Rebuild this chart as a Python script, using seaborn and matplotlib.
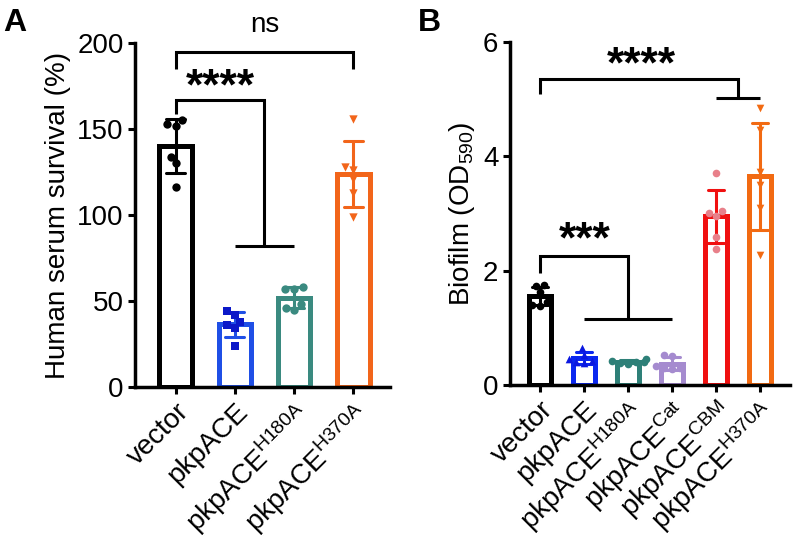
"""Recreates a two-panel bar chart (serum survival and biofilm) with swarm points."""

import numpy as np
import pandas as pd
import seaborn as sns
import matplotlib
matplotlib.use("Agg")
import matplotlib.pyplot as plt

sns.set_style("ticks")
plt.rcParams["font.family"] = ["Liberation Sans", "DejaVu Sans"]
for key in ["text.color", "axes.labelcolor", "xtick.color", "ytick.color", "axes.edgecolor"]:
    plt.rcParams[key] = "black"

# Panel A: human serum survival (%)
groups_a = ["vector", "pkpACE", "pkpACE_H180A", "pkpACE_H370A"]
labels_a = ["vector", "pkpACE", r"pkpACE$^{\mathregular{H180A}}$", r"pkpACE$^{\mathregular{H370A}}$"]
vector_a = [152, 153, 155, 134, 130, 116]
pkpace_a = [44, 42, 34, 24, 36, 38]
h180a_a = [57, 58, 57, 45, 46, 48]
h370a_a = [156, 128, 126, 113, 99, 121]

# Panel B: biofilm (OD590)
groups_b = ["vector", "pkpACE", "pkpACE_H180A", "pkpACE_Cat", "pkpACE_CBM", "pkpACE_H370A"]
labels_b = ["vector", "pkpACE", r"pkpACE$^{\mathregular{H180A}}$", r"pkpACE$^{\mathregular{Cat}}$",
            r"pkpACE$^{\mathregular{CBM}}$", r"pkpACE$^{\mathregular{H370A}}$"]
vector_b = [1.73, 1.74, 1.62, 1.45, 1.40, 1.38]
pkpace_b = [0.65, 0.52, 0.45, 0.42, 0.38, 0.40]
h180a_b = [0.45, 0.42, 0.40, 0.38, 0.40, 0.37]
cat_b = [0.52, 0.50, 0.32, 0.28, 0.30, 0.30]
cbm_b = [3.71, 3.04, 3.01, 2.95, 2.59, 2.38]
h370a_b = [4.84, 4.46, 3.72, 3.50, 3.09, 2.27]

bar_col_a = {"vector": "#000000", "pkpACE": "#1f4fe6", "pkpACE_H180A": "#3a8a80", "pkpACE_H370A": "#f2651a"}
pt_col_a = {"vector": "#000000", "pkpACE": "#0b18c8", "pkpACE_H180A": "#3a8a80", "pkpACE_H370A": "#f2651a"}
marker_a = {"vector": "o", "pkpACE": "s", "pkpACE_H180A": "o", "pkpACE_H370A": "v"}

bar_col_b = {"vector": "#000000", "pkpACE": "#0b28f0", "pkpACE_H180A": "#2e8078", "pkpACE_Cat": "#a58bcf",
             "pkpACE_CBM": "#f01010", "pkpACE_H370A": "#f26a12"}
pt_col_b = {"vector": "#000000", "pkpACE": "#0b18e0", "pkpACE_H180A": "#2e8078", "pkpACE_Cat": "#a58bcf",
            "pkpACE_CBM": "#e8808a", "pkpACE_H370A": "#f26a12"}
marker_b = {"vector": "o", "pkpACE": "^", "pkpACE_H180A": "o", "pkpACE_Cat": "o",
            "pkpACE_CBM": "o", "pkpACE_H370A": "v"}


def long_df(groups, series):
    rows = []
    for g, vals in zip(groups, series):
        for v in vals:
            rows.append({"group": g, "value": v})
    return pd.DataFrame(rows)


def bracket(ax, xs, ys, lw=2.2):
    ax.plot(xs, ys, color="black", lw=lw, clip_on=False, solid_capstyle="butt",
            solid_joinstyle="miter")


def stars(ax, x, y, s):
    ax.text(x, y, s, ha="center", va="baseline", fontsize=32, fontweight="bold", clip_on=False)


def draw_panel(ax, df, groups, labels, bar_col, pt_col, markers, width, capsize, msize):
    sns.barplot(data=df, x="group", y="value", hue="group", order=groups, hue_order=groups,
                palette=bar_col, fill=False, errorbar="sd", capsize=capsize, width=width,
                linewidth=3.6, err_kws={"linewidth": 2.2}, legend=False, ax=ax)
    for g in groups:
        sub = df[df["group"] == g]
        sns.swarmplot(data=sub, x="group", y="value", order=groups, color=pt_col[g],
                      marker=markers[g], size=msize, ax=ax, zorder=3)
    ax.set_xticks(range(len(groups)))
    ax.set_xticklabels(labels, rotation=45, ha="right", rotation_mode="anchor", fontsize=20)
    ax.set_xlabel("")
    ax.tick_params(axis="both", length=5, width=2.2, labelsize=20, colors="black")
    for s in ["left", "bottom"]:
        ax.spines[s].set_linewidth(2.5)
        ax.spines[s].set_color("black")
    sns.despine(ax=ax)


fig = plt.figure(figsize=(7.96, 5.45), dpi=100)

# Panel A
ax_a = fig.add_axes([0.170, 0.290, 0.320, 0.631])
df_a = long_df(groups_a, [vector_a, pkpace_a, h180a_a, h370a_a])
draw_panel(ax_a, df_a, groups_a, labels_a, bar_col_a, pt_col_a, marker_a, 0.55, 0.32, 6)
ax_a.set_ylim(0, 200)
ax_a.set_yticks([0, 50, 100, 150, 200])
ax_a.set_xlim(-0.68, 3.62)
ax_a.set_ylabel("Human serum survival (%)", fontsize=20)
bracket(ax_a, [0, 0, 3, 3], [185, 195, 195, 185])
ax_a.text(1.5, 203, "ns", ha="center", va="bottom", fontsize=20)
bracket(ax_a, [0, 0, 1.5, 1.5], [159, 167, 167, 82])
bracket(ax_a, [1, 2], [82, 82])
stars(ax_a, 0.75, 167, "****")
fig.text(0.004, 0.985, "A", fontsize=23, fontweight="bold", va="top")

# Panel B
ax_b = fig.add_axes([0.641, 0.294, 0.352, 0.629])
df_b = long_df(groups_b, [vector_b, pkpace_b, h180a_b, cat_b, cbm_b, h370a_b])
draw_panel(ax_b, df_b, groups_b, labels_b, bar_col_b, pt_col_b, marker_b, 0.5, 0.36, 5.5)
ax_b.set_ylim(0, 6)
ax_b.set_yticks([0, 2, 4, 6])
ax_b.set_xlim(-0.68, 5.7)
ax_b.set_ylabel(r"Biofilm (OD$_{\mathregular{590}}$)", fontsize=20)
bracket(ax_b, [0, 0, 4.5, 4.5], [5.09, 5.35, 5.35, 5.02])
bracket(ax_b, [4, 5], [5.02, 5.02])
stars(ax_b, 2.3, 5.38, "****")
bracket(ax_b, [0, 0, 2, 2], [1.96, 2.26, 2.26, 1.15])
bracket(ax_b, [1, 3], [1.15, 1.15])
stars(ax_b, 1.02, 2.32, "***")
fig.text(0.525, 0.985, "B", fontsize=23, fontweight="bold", va="top")

fig.savefig("out.png", dpi=100)
